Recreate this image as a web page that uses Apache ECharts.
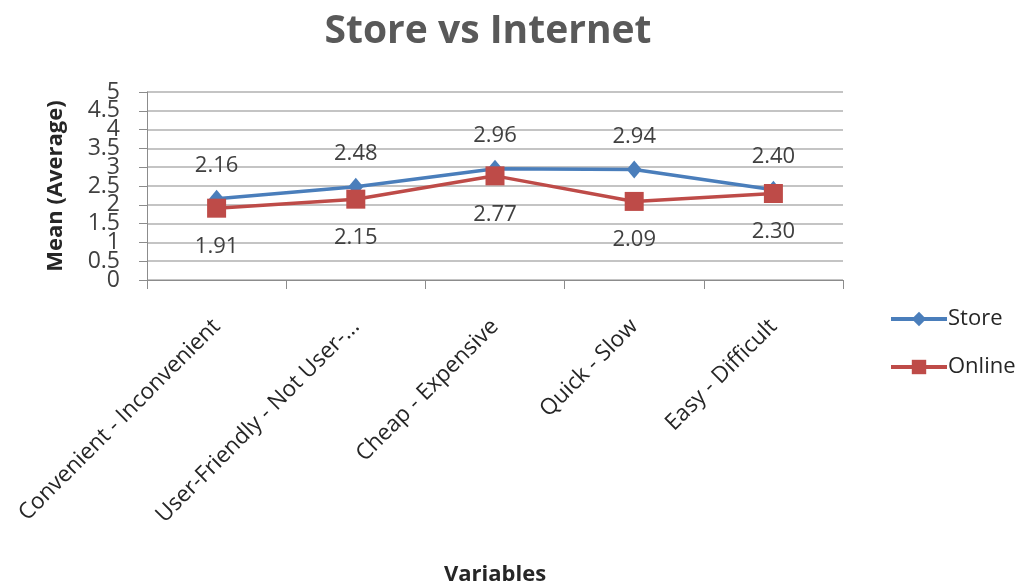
<!DOCTYPE html>
<html>
<head>
<meta charset="utf-8">
<script src="https://cdn.jsdelivr.net/npm/echarts@6/dist/echarts.min.js"></script>
<style>
html,body{margin:0;padding:0;background:#fff;}
#chart{width:1016px;height:587px;}
</style>
</head>
<body>
<div id="chart"></div>
<script>
const categories = ['Convenient - Inconvenient', 'User-Friendly - Not User-...', 'Cheap - Expensive', 'Quick - Slow', 'Easy - Difficult'];
const storeValues = [2.16, 2.48, 2.96, 2.94, 2.40];
const onlineValues = [1.91, 2.15, 2.77, 2.09, 2.30];
const seriesNames = ['Store', 'Online'];
const yMin = 0, yMax = 5, yStep = 0.5;

const FONT = '"Open Sans", "Noto Sans", sans-serif';
const isWhole = v => Math.abs(v - Math.round(v)) < 1e-6;
const yLabelStyle = { fontSize: 23, color: '#404040', margin: 27, fontFamily: FONT,
  showMinLabel: true, showMaxLabel: true, hideOverlap: false };

const chart = echarts.init(document.getElementById('chart'));
chart.setOption({
  backgroundColor: '#fff',
  textStyle: { fontFamily: FONT },
  title: {
    text: 'Store vs Internet',
    left: 483, top: 7, textAlign: 'center',
    textStyle: { fontSize: 39, fontWeight: 'bold', color: '#595959', fontFamily: FONT }
  },
  legend: {
    orient: 'vertical', left: 884, top: 303,
    itemWidth: 56, itemHeight: 18, itemGap: 26,
    lineStyle: { width: 4 },
    textStyle: { fontSize: 22, color: '#262626', fontFamily: FONT, padding: [0, 0, 0, -4] },
    data: seriesNames
  },
  grid: { left: 147, right: 173, top: 92, bottom: 300, containLabel: false },
  xAxis: {
    type: 'category', data: categories, boundaryGap: true,
    name: 'Variables', nameLocation: 'middle', nameGap: 284,
    nameTextStyle: { fontSize: 22, fontWeight: 'bold', color: '#262626', fontFamily: FONT },
    axisLine: { lineStyle: { color: '#8c8c8c', width: 1 } },
    axisTick: { show: true, length: 9, alignWithLabel: false, lineStyle: { color: '#8c8c8c' } },
    axisLabel: { rotate: 45, fontSize: 22.5, color: '#262626', margin: 43, interval: 0, fontFamily: FONT }
  },
  yAxis: [
    {
      type: 'value', min: yMin, max: yMax, interval: yStep,
      name: 'Mean (Average)', nameLocation: 'middle', nameGap: 80, nameRotate: 90,
      nameTextStyle: { fontSize: 22, fontWeight: 'bold', color: '#262626', fontFamily: FONT },
      axisLine: { show: true, lineStyle: { color: '#8c8c8c', width: 1 } },
      axisTick: { show: true, length: 8, lineStyle: { color: '#8c8c8c' } },
      axisLabel: Object.assign({}, yLabelStyle, { formatter: v => isWhole(v) ? String(v) : '' }),
      splitLine: { show: true, lineStyle: { color: '#c4c4c4', width: 2 } }
    },
    {
      type: 'value', min: yMin, max: yMax, interval: yStep, position: 'left', offset: 0,
      axisLine: { show: false }, axisTick: { show: false }, splitLine: { show: false },
      axisLabel: Object.assign({}, yLabelStyle, { formatter: v => isWhole(v) ? '' : String(v) })
    }
  ],
  series: [
    {
      name: 'Store', type: 'line', data: storeValues,
      symbol: 'diamond', symbolSize: [15, 18],
      lineStyle: { color: '#4A7EBB', width: 3.5 },
      itemStyle: { color: '#4A7EBB' },
      label: { show: true, position: 'top', distance: 13, fontSize: 22, color: '#404040',
        formatter: p => p.value.toFixed(2), fontFamily: FONT },
      animation: false
    },
    {
      name: 'Online', type: 'line', data: onlineValues,
      symbol: 'rect', symbolSize: 19,
      lineStyle: { color: '#BE4B48', width: 3.5 },
      itemStyle: { color: '#BE4B48' },
      label: { show: true, position: 'bottom', distance: 18, fontSize: 22, color: '#404040',
        formatter: p => p.value.toFixed(2), fontFamily: FONT },
      animation: false
    }
  ]
});
</script>
</body>
</html>
